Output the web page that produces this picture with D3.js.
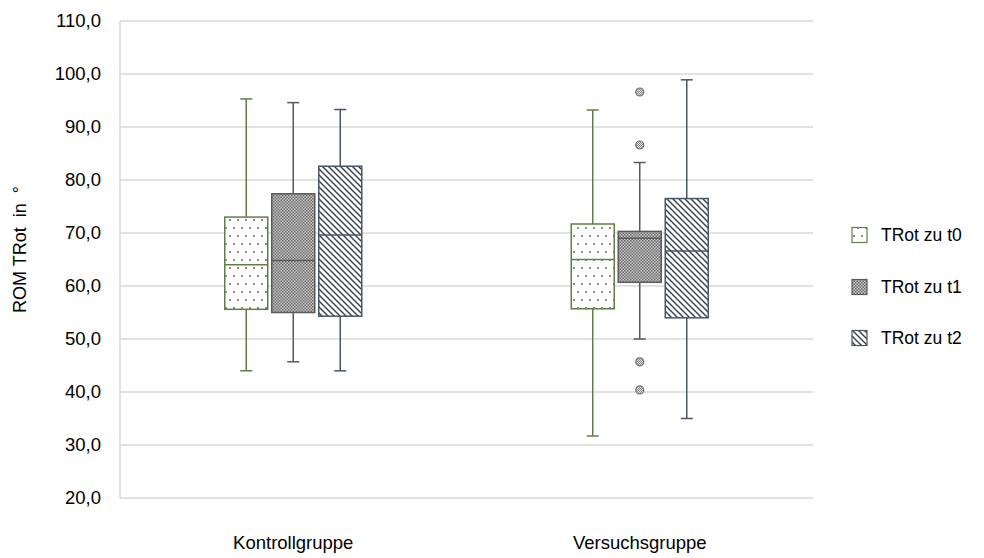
<!DOCTYPE html>
<html>
<head>
<meta charset="utf-8">
<script src="https://cdn.jsdelivr.net/npm/d3@7"></script>
<style>
  html, body { margin: 0; padding: 0; background: #fff; }
  svg { display: block; font-family: "Liberation Sans", Arial, sans-serif; }
</style>
</head>
<body>
<svg id="chart" width="984" height="558"></svg>
<script>
// ---- data ----
const groups = ["Kontrollgruppe", "Versuchsgruppe"];
const series = ["TRot zu t0", "TRot zu t1", "TRot zu t2"];
const yTicks = [20, 30, 40, 50, 60, 70, 80, 90, 100, 110];
// [whiskerLow, q1, median, q3, whiskerHigh] per group
const t0Stats = [[44.0, 55.6, 64.0, 73.0, 95.3], [31.7, 55.7, 65.0, 71.7, 93.2]];
const t1Stats = [[45.7, 55.0, 64.8, 77.4, 94.6], [50.0, 60.7, 69.0, 70.3, 83.3]];
const t2Stats = [[44.0, 54.3, 69.6, 82.6, 93.3], [35.0, 54.0, 66.6, 76.5, 98.9]];
const t0Outliers = [[], []];
const t1Outliers = [[], [96.6, 86.6, 45.7, 40.4]];
const t2Outliers = [[], []];

const statsBySeries = [t0Stats, t1Stats, t2Stats];
const outliersBySeries = [t0Outliers, t1Outliers, t2Outliers];
const strokeColors = ["#5f7f45", "#5a5a5a", "#4a5568"];
const fills = ["url(#patDots)", "url(#patCheck)", "url(#patDiag)"];

const svg = d3.select("#chart");
const margin = { left: 120, right: 171, top: 21, bottom: 60 };
const W = 984, H = 558;

// ---- patterns ----
const defs = svg.append("defs");
const pd = defs.append("pattern").attr("id", "patDots").attr("patternUnits", "userSpaceOnUse")
  .attr("width", 8).attr("height", 16);
pd.append("rect").attr("width", 8).attr("height", 16).attr("fill", "#fff");
pd.append("circle").attr("cx", 2).attr("cy", 4).attr("r", 1).attr("fill", "#666");
pd.append("circle").attr("cx", 6).attr("cy", 12).attr("r", 1).attr("fill", "#666");

const pc = defs.append("pattern").attr("id", "patCheck").attr("patternUnits", "userSpaceOnUse")
  .attr("width", 3).attr("height", 3);
pc.append("rect").attr("width", 3).attr("height", 3).attr("fill", "#c8c8c8");
pc.append("rect").attr("width", 1.5).attr("height", 1.5).attr("fill", "#6a6a6a");
pc.append("rect").attr("x", 1.5).attr("y", 1.5).attr("width", 1.5).attr("height", 1.5).attr("fill", "#6a6a6a");

const pg = defs.append("pattern").attr("id", "patDiag").attr("patternUnits", "userSpaceOnUse")
  .attr("width", 6).attr("height", 6);
pg.append("rect").attr("width", 6).attr("height", 6).attr("fill", "#fff");
pg.append("path").attr("d", "M-1,-1 L7,7 M-4,2 L4,10 M2,-4 L10,4")
  .attr("stroke", "#3e4654").attr("stroke-width", 1.5);

const pO = defs.append("pattern").attr("id", "patOut").attr("patternUnits", "userSpaceOnUse")
  .attr("width", 2).attr("height", 2);
pO.append("rect").attr("width", 2).attr("height", 2).attr("fill", "#e0e0e0");
pO.append("rect").attr("width", 1).attr("height", 1).attr("fill", "#8a8a8a");
pO.append("rect").attr("x", 1).attr("y", 1).attr("width", 1).attr("height", 1).attr("fill", "#8a8a8a");

// ---- scales ----
const y = d3.scaleLinear().domain([20, 110]).range([H - margin.bottom, margin.top]);
const x0 = d3.scaleBand().domain(groups).range([margin.left, W - margin.right]);
const x1 = d3.scaleBand().domain(series).range([-70.5, 70.5]).paddingInner(4 / 47).paddingOuter(2 / 47);

// ---- grid ----
const grid = svg.append("g");
grid.selectAll("line").data(yTicks).join("line")
  .attr("x1", margin.left).attr("x2", W - margin.right)
  .attr("y1", d => y(d)).attr("y2", d => y(d))
  .attr("stroke", "#d9d9d9").attr("stroke-width", 1.5);
grid.append("line")
  .attr("x1", margin.left).attr("x2", margin.left)
  .attr("y1", y(20)).attr("y2", y(110))
  .attr("stroke", "#d9d9d9").attr("stroke-width", 1.5);

// y axis labels
const yAxis = d3.axisLeft(y).tickValues(yTicks).tickSize(0).tickPadding(19)
  .tickFormat(d => d3.format(".1f")(d).replace(".", ","));
const ya = svg.append("g").attr("transform", `translate(${margin.left},0)`).call(yAxis);
ya.select(".domain").remove();
ya.selectAll("text").attr("font-size", 18.5).attr("fill", "#000")
  .style("font-family", '"Liberation Sans", Arial, sans-serif');

// y title
svg.append("text")
  .attr("transform", `translate(26,${(y(20) + y(110)) / 2 - 10}) rotate(-90)`)
  .attr("text-anchor", "middle").attr("font-size", 18).attr("fill", "#000")
  .style("white-space", "pre")
  .text("ROM TRot  in  °");

// x labels
const xAxis = d3.axisBottom(x0).tickSize(0).tickPadding(38);
const xa = svg.append("g").attr("transform", `translate(0,${y(20)})`).call(xAxis);
xa.select(".domain").remove();
xa.selectAll("text").attr("font-size", 18.5).attr("fill", "#000")
  .style("font-family", '"Liberation Sans", Arial, sans-serif');

// ---- boxes ----
const capW = 12;
series.forEach((s, si) => {
  const g = svg.append("g");
  groups.forEach((grp, gi) => {
    const st = statsBySeries[si][gi];
    const cx = x0(grp) + x0.bandwidth() / 2 + x1(s) + x1.bandwidth() / 2;
    const bx = x0(grp) + x0.bandwidth() / 2 + x1(s);
    const bw = x1.bandwidth();
    const col = strokeColors[si];
    // whiskers
    g.append("line").attr("x1", cx).attr("x2", cx).attr("y1", y(st[3])).attr("y2", y(st[4]))
      .attr("stroke", col).attr("stroke-width", 1.5);
    g.append("line").attr("x1", cx).attr("x2", cx).attr("y1", y(st[1])).attr("y2", y(st[0]))
      .attr("stroke", col).attr("stroke-width", 1.5);
    [st[0], st[4]].forEach(v => {
      g.append("line").attr("x1", cx - capW / 2).attr("x2", cx + capW / 2)
        .attr("y1", y(v)).attr("y2", y(v)).attr("stroke", col).attr("stroke-width", 1.5);
    });
    // box
    g.append("rect").attr("x", bx).attr("y", y(st[3])).attr("width", bw)
      .attr("height", y(st[1]) - y(st[3])).attr("fill", fills[si])
      .attr("stroke", col).attr("stroke-width", 1.5);
    g.append("line").attr("x1", bx).attr("x2", bx + bw).attr("y1", y(st[2])).attr("y2", y(st[2]))
      .attr("stroke", col).attr("stroke-width", 1.5);
    // outliers
    outliersBySeries[si][gi].forEach(v => {
      g.append("circle").attr("cx", cx).attr("cy", y(v)).attr("r", 4)
        .attr("fill", "url(#patOut)").attr("stroke", "#707070").attr("stroke-width", 1.2);
    });
  });
});

// ---- legend ----
const legY = [235, 287, 338];
const leg = svg.append("g");
series.forEach((s, si) => {
  leg.append("rect").attr("x", 852).attr("y", legY[si] - 7.5).attr("width", 15).attr("height", 15)
    .attr("fill", fills[si]).attr("stroke", strokeColors[si]).attr("stroke-width", 1.2);
  leg.append("text").attr("x", 881).attr("y", legY[si]).attr("dy", "0.35em")
    .attr("font-size", 17.5).attr("fill", "#000").text(s);
});
</script>
</body>
</html>
